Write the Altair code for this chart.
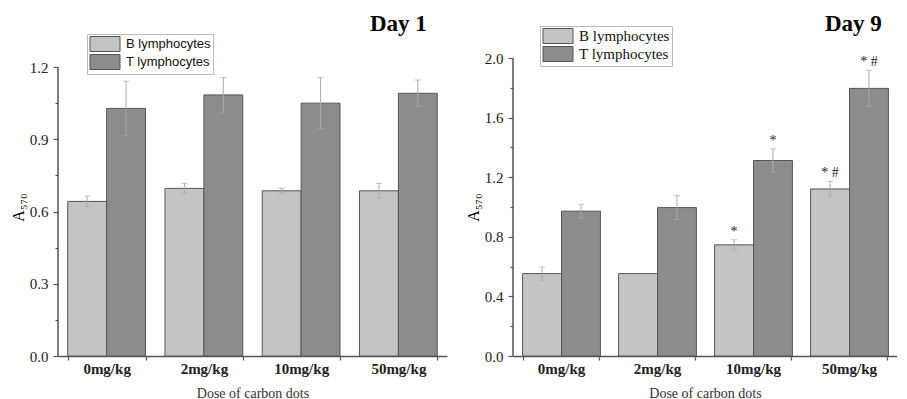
import altair as alt
import pandas as pd

doses = ["0mg/kg", "2mg/kg", "10mg/kg", "50mg/kg"]
cells = ["B lymphocytes", "T lymphocytes"]

day1_b = [0.642, 0.696, 0.686, 0.686]
day1_b_err = [0.022, 0.021, 0.010, 0.031]
day1_t = [1.028, 1.084, 1.050, 1.091]
day1_t_err = [0.113, 0.072, 0.106, 0.055]
day1_b_mark = ["", "", "", ""]
day1_t_mark = ["", "", "", ""]

day9_b = [0.553, 0.553, 0.746, 1.121]
day9_b_err = [0.044, 0.0, 0.034, 0.052]
day9_t = [0.972, 0.996, 1.312, 1.796]
day9_t_err = [0.046, 0.080, 0.078, 0.122]
day9_b_mark = ["", "", "*", "* #"]
day9_t_mark = ["", "", "*", "* #"]

day1_yticks = [0.0, 0.3, 0.6, 0.9, 1.2]
day1_yminor = [0.15, 0.45, 0.75, 1.05]
day9_yticks = [0.0, 0.4, 0.8, 1.2, 1.6, 2.0]
day9_yminor = [0.2, 0.6, 1.0, 1.4, 1.8]

B_FILL = "#c4c4c4"
T_FILL = "#8c8c8c"
SERIF = "Liberation Serif"
SANS = "Liberation Sans"
SYMBOL = "M-2,-1L2,-1L2,1L-2,1Z"
PLOT_H = 298


def panel_df(b, berr, t, terr, bmark, tmark):
    rows = []
    for i, d in enumerate(doses):
        rows.append(dict(dose=d, cell=cells[0], value=b[i], err=berr[i], mark=bmark[i]))
        rows.append(dict(dose=d, cell=cells[1], value=t[i], err=terr[i], mark=tmark[i]))
    df = pd.DataFrame(rows)
    df["lo"] = df["value"] - df["err"]
    df["hi"] = df["value"] + df["err"]
    return df


def panel(df, title, axis_top, scale_top, yticks, yminor, width,
          lfont, lsize, lx, ly, tx, ty):
    xenc = alt.X(
        "dose:N", sort=doses,
        scale=alt.Scale(paddingInner=0.2, paddingOuter=0.1),
        axis=alt.Axis(title="Dose of carbon dots", labelAngle=0, tickBand="extent",
                      tickSize=4, labelFontSize=15, labelFontWeight="bold",
                      labelPadding=1, titlePadding=10, titleFontSize=14,
                      titleFontWeight="normal", titleColor="#333"),
    )
    xoff = alt.XOffset("cell:N", sort=cells, scale=alt.Scale(paddingInner=0, paddingOuter=0))
    yscale = alt.Scale(domain=[0, scale_top], nice=False, zero=True)

    base = alt.Chart(df)
    bars = base.mark_bar(stroke="#555", strokeWidth=1).encode(
        x=xenc, xOffset=xoff,
        y=alt.Y("value:Q", scale=yscale,
                axis=alt.Axis(values=yticks, format=".1f", title="A₅₇₀", orient="left",
                              domain=False, tickSize=5, labelPadding=5, labelFontSize=15,
                              titleFontSize=16, titleFontWeight="normal", titlePadding=3)),
        fill=alt.Fill("cell:N", scale=alt.Scale(domain=cells, range=[B_FILL, T_FILL]),
                      legend=alt.Legend(orient="none", legendX=lx, legendY=ly, title=None,
                                        symbolType=SYMBOL, symbolSize=225,
                                        symbolOffset=8,
                                        symbolStrokeColor="#555", symbolStrokeWidth=1,
                                        labelFont=lfont, labelFontSize=lsize, labelColor="#111",
                                        strokeColor="#bbb", fillColor="white", padding=2,
                                        rowPadding=-4, labelOffset=13)),
    )
    minor = base.mark_rule(opacity=0).encode(
        x=xenc, xOffset=xoff,
        y=alt.Y("value:Q", scale=yscale,
                axis=alt.Axis(values=yminor, labels=False, domain=False, title=None,
                              orient="left", tickSize=3)),
    )
    yline = alt.Chart(pd.DataFrame({"k": [0]})).mark_rule(color="#555", strokeWidth=1.5).encode(
        x=alt.value(0),
        y=alt.Y(datum=0, scale=yscale, axis=None),
        y2=alt.Y2(datum=axis_top),
    )
    err = base.transform_filter("datum.err > 0")
    rules = err.mark_rule(color="#aaaaaa", strokeWidth=1).encode(
        x=xenc, xOffset=xoff,
        y=alt.Y("lo:Q", scale=yscale, axis=None), y2="hi:Q",
    )
    cap_hi = err.mark_tick(color="#aaaaaa", thickness=1, size=6).encode(
        x=xenc, xOffset=xoff, y=alt.Y("hi:Q", scale=yscale, axis=None))
    cap_lo = err.mark_tick(color="#aaaaaa", thickness=1, size=6).encode(
        x=xenc, xOffset=xoff, y=alt.Y("lo:Q", scale=yscale, axis=None))
    marks = base.transform_filter("datum.mark != ''").mark_text(
        dy=-8, font=SERIF, fontSize=14, color="#222", baseline="middle").encode(
        x=xenc, xOffset=xoff, y=alt.Y("hi:Q", scale=yscale, axis=None), text="mark:N")
    ttl = alt.Chart(pd.DataFrame({"t": [title]})).mark_text(
        font=SERIF, fontSize=23, fontWeight="bold", align="left", baseline="alphabetic",
        color="#000").encode(text="t:N", x=alt.value(tx), y=alt.value(ty))

    return alt.layer(bars, minor, yline, rules, cap_hi, cap_lo, marks, ttl).resolve_axis(
        y="independent").properties(width=width, height=PLOT_H)


left = panel(panel_df(day1_b, day1_b_err, day1_t, day1_t_err, day1_b_mark, day1_t_mark),
             "Day 1", 1.2, 1.2 * 298 / 289, day1_yticks, day1_yminor, 389,
             SANS, 13, 29, -24, 312, -27)
right = panel(panel_df(day9_b, day9_b_err, day9_t, day9_t_err, day9_b_mark, day9_t_mark),
              "Day 9", 2.0, 2.0, day9_yticks, day9_yminor, 384,
              SERIF, 15, 27, -32, 312, -27)

chart = alt.hconcat(left, right, spacing=18).properties(
    padding={"left": 2, "top": 5, "right": 0, "bottom": 0}
).resolve_scale(y="independent", x="independent", fill="independent").configure_view(
    stroke=None
).configure_axis(
    grid=False, labelFont=SERIF, titleFont=SERIF, labelColor="#222",
    domainColor="#555", tickColor="#555", domainWidth=1.5, tickWidth=1.2,
)

chart.save("out.html", embed_options={"renderer": "svg", "actions": False})
